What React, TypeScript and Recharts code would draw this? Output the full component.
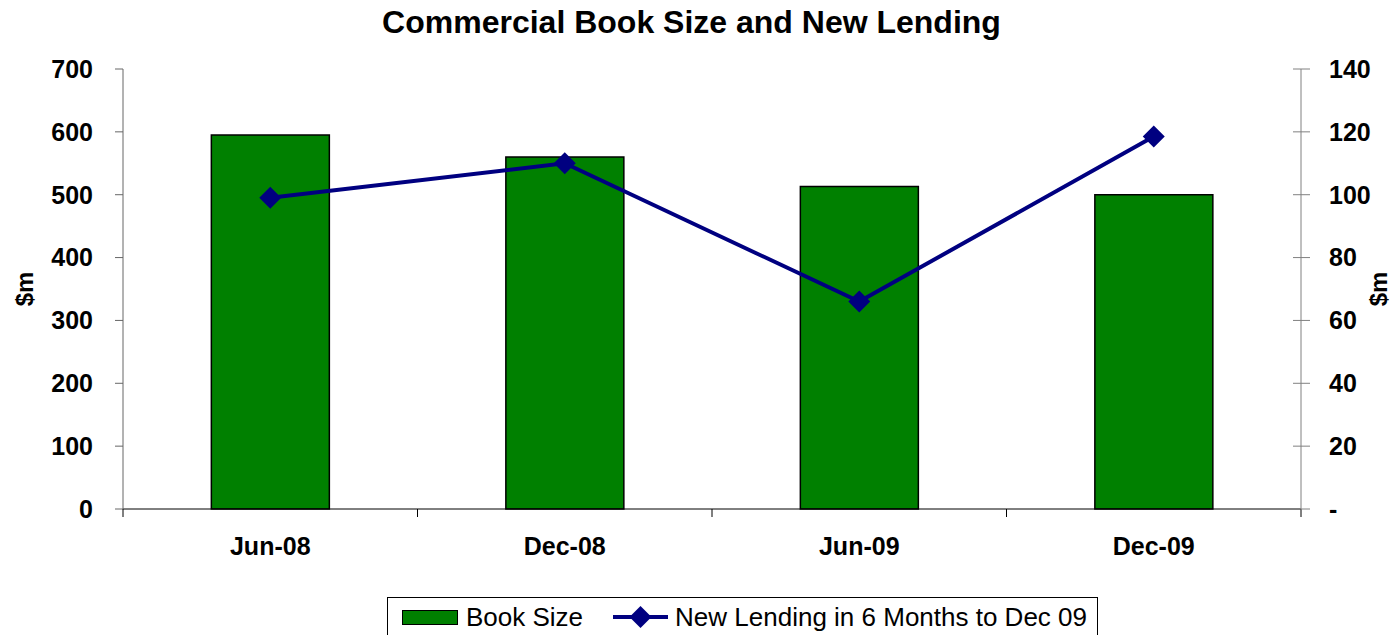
import React from 'react';
import { ComposedChart, Bar, Line, XAxis, YAxis, Label } from 'recharts';

const periods = ['Jun-08', 'Dec-08', 'Jun-09', 'Dec-09'];
const bookSize = [595, 560, 513, 500];
const newLending = [99, 110, 66, 118.5];
const leftTicks = [0, 100, 200, 300, 400, 500, 600, 700];
const rightTicks = [0, 20, 40, 60, 80, 100, 120, 140];

const data = periods.map((p, i) => ({ period: p, book: bookSize[i], lending: newLending[i] }));

const W = 1391;
const H = 635;
const FONT = '"Liberation Sans", Arial, sans-serif';
const PLOT_LEFT = 123;
const PLOT_RIGHT = 1301;
const BAND = (PLOT_RIGHT - PLOT_LEFT) / periods.length;
const NAVY = '#000080';
const GREEN = '#008000';
const TICK_FS = 25;

// x axis: label at band centre, tick marks at band edges (Excel style)
function XTick(props: any) {
  const { x, y, payload, index } = props;
  const axisY = y - 29;
  return (
    <g>
      <line x1={x - BAND / 2} x2={x - BAND / 2} y1={axisY} y2={axisY + 8} stroke="#000" />
      {index === periods.length - 1 && (
        <line x1={x + BAND / 2} x2={x + BAND / 2} y1={axisY} y2={axisY + 8} stroke="#000" />
      )}
      <text x={x} y={y} dy="0.68em" textAnchor="middle" fontFamily={FONT} fontWeight="bold" fontSize={TICK_FS} fill="#000">
        {payload.value}
      </text>
    </g>
  );
}

// right axis: tick crosses the axis line
function RightTick(props: any) {
  const { x, y, payload } = props;
  return (
    <g>
      <line x1={x - 36} x2={x - 19} y1={y} y2={y} stroke="#808080" />
      <text x={x} y={y} dy="0.355em" textAnchor="start" fontFamily={FONT} fontWeight="bold" fontSize={TICK_FS} fill="#000">
        {payload.value === 0 ? '-' : payload.value}
      </text>
    </g>
  );
}

function Diamond(props: any) {
  const { cx, cy } = props;
  if (cx == null || cy == null) return null;
  const r = 11;
  return <polygon points={`${cx},${cy - r} ${cx + r},${cy} ${cx},${cy + r} ${cx - r},${cy}`} fill={NAVY} />;
}

function AxisTitle({ viewBox, dxPos }: any) {
  const cx = viewBox.x + dxPos;
  const cy = viewBox.y + viewBox.height / 2;
  return (
    <text
      x={cx}
      y={cy}
      transform={`rotate(-90, ${cx}, ${cy})`}
      textAnchor="middle"
      dominantBaseline="central"
      fontFamily={FONT}
      fontWeight="bold"
      fontSize={24}
      fill="#000"
    >
      $m
    </text>
  );
}

export default function App() {
  return (
    <div style={{ position: 'absolute', left: 0, top: 0, width: W, height: H, background: '#fff', fontFamily: FONT }}>
      <div
        style={{
          position: 'absolute',
          left: 0,
          top: 4,
          width: W - 8,
          textAlign: 'center',
          fontSize: 32,
          fontWeight: 'bold',
        }}
      >
        Commercial Book Size and New Lending
      </div>
      <ComposedChart
        width={W}
        height={H}
        data={data}
        margin={{ top: 69, right: 0, left: 0, bottom: 66 }}
        barCategoryGap="30%"
      >
        <XAxis
          dataKey="period"
          height={60}
          tickSize={8}
          tickMargin={21}
          tickLine={false}
          axisLine={{ stroke: '#000' }}
          tick={<XTick />}
          interval={0}
        />
        <YAxis
          yAxisId="left"
          width={PLOT_LEFT}
          domain={[0, 700]}
          ticks={leftTicks}
          tickSize={8}
          tickMargin={22}
          axisLine={{ stroke: '#666' }}
          tickLine={{ stroke: '#666' }}
          tick={{ fontFamily: FONT, fontWeight: 'bold', fontSize: TICK_FS, fill: '#000' }}
        >
          <Label content={<AxisTitle dxPos={24} />} />
        </YAxis>
        <YAxis
          yAxisId="right"
          orientation="right"
          width={W - PLOT_RIGHT}
          domain={[0, 140]}
          ticks={rightTicks}
          tickSize={9}
          tickMargin={19}
          tickLine={false}
          axisLine={{ stroke: '#808080' }}
          tick={<RightTick />}
        >
          <Label content={<AxisTitle dxPos={77} />} />
        </YAxis>
        <Bar yAxisId="left" dataKey="book" fill={GREEN} stroke="#000" strokeWidth={1.5} isAnimationActive={false} />
        <Line
          yAxisId="right"
          dataKey="lending"
          stroke={NAVY}
          strokeWidth={4}
          dot={<Diamond />}
          activeDot={false}
          isAnimationActive={false}
        />
      </ComposedChart>
      <div
        style={{
          position: 'absolute',
          left: 387,
          top: 597,
          width: 711,
          height: 40,
          border: '1px solid #000',
          boxSizing: 'border-box',
          display: 'flex',
          alignItems: 'center',
          fontSize: 26,
        }}
      >
        <span style={{ display: 'inline-block', width: 54, height: 13, background: GREEN, border: '1.5px solid #000', marginLeft: 14, marginRight: 8 }} />
        <span>Book Size</span>
        <svg width={55} height={24} style={{ marginLeft: 30, marginRight: 7 }}>
          <line x1={0} x2={55} y1={12} y2={12} stroke={NAVY} strokeWidth={4} />
          <polygon points="27.5,1 38.5,12 27.5,23 16.5,12" fill={NAVY} />
        </svg>
        <span>New Lending in 6 Months to Dec 09</span>
      </div>
    </div>
  );
}
